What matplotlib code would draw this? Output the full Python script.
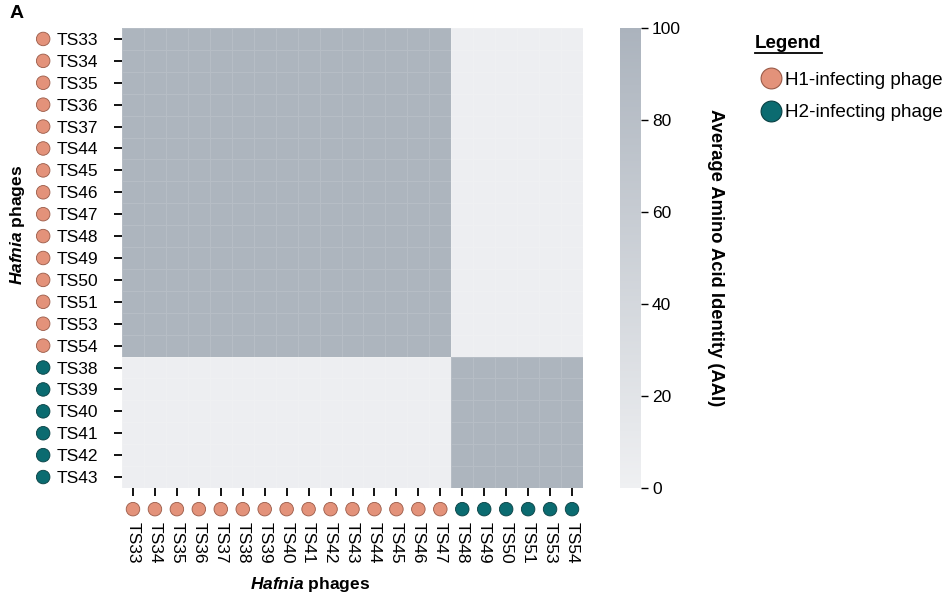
import numpy as np
import matplotlib
matplotlib.use("Agg")
import matplotlib.pyplot as plt
from matplotlib.colors import LinearSegmentedColormap
from matplotlib.lines import Line2D
import matplotlib.transforms as mtransforms

plt.rcParams["font.family"] = ["Liberation Sans", "DejaVu Sans"]
plt.rcParams["mathtext.fontset"] = "custom"
plt.rcParams["mathtext.it"] = "Liberation Sans:bold:italic"
plt.rcParams["mathtext.rm"] = "Liberation Sans:bold"

# phage order on each axis and the host each one infects
row_labels = ["TS33", "TS34", "TS35", "TS36", "TS37", "TS44", "TS45", "TS46",
              "TS47", "TS48", "TS49", "TS50", "TS51", "TS53", "TS54",
              "TS38", "TS39", "TS40", "TS41", "TS42", "TS43"]
row_host = ["H1"] * 15 + ["H2"] * 6
col_labels = ["TS33", "TS34", "TS35", "TS36", "TS37", "TS38", "TS39", "TS40",
              "TS41", "TS42", "TS43", "TS44", "TS45", "TS46", "TS47",
              "TS48", "TS49", "TS50", "TS51", "TS53", "TS54"]
col_host = ["H1"] * 15 + ["H2"] * 6

# pairwise AAI (%)
same_group_aai = 97.0
cross_group_aai = 3.0

host_colors = {"H1": "#e3927a", "H2": "#0b6b70"}
host_edges = {"H1": "#9a5a47", "H2": "#083f42"}

aai = np.where(np.array(row_host)[:, None] == np.array(col_host)[None, :],
               same_group_aai, cross_group_aai)

cmap = LinearSegmentedColormap.from_list("aai", ["#eff0f2", "#abb3bd"])

fig = plt.figure(figsize=(9.48, 5.98), dpi=100)
ax = fig.add_axes([122 / 948, 1 - 488 / 598, 461 / 948, 460 / 598])
cax = fig.add_axes([620 / 948, 1 - 488 / 598, 21 / 948, 460 / 598])

n_rows, n_cols = aai.shape
mesh = ax.pcolormesh(np.arange(n_cols + 1), np.arange(n_rows + 1), aai,
                     cmap=cmap, vmin=0, vmax=100,
                     edgecolor=(1, 1, 1, 0.12), linewidth=0.6)
ax.set_xlim(0, n_cols)
ax.set_ylim(n_rows, 0)
for s in ax.spines.values():
    s.set_visible(False)

ax.set_xticks(np.arange(n_cols) + 0.5)
ax.set_xticklabels(col_labels, rotation=-90, fontsize=12.5, va="top")
ax.set_yticks(np.arange(n_rows) + 0.5)
ax.set_yticklabels(row_labels, fontsize=12.5)
ax.tick_params(axis="x", length=5.5, width=1.3, pad=19)
ax.tick_params(axis="y", length=5.5, width=1.3, pad=11.5)

# host markers next to the tick labels
tx = mtransforms.blended_transform_factory(ax.transData, ax.transAxes)
ax.scatter(np.arange(n_cols) + 0.5, [-0.046] * n_cols, s=95,
           c=[host_colors[h] for h in col_host],
           edgecolors=[host_edges[h] for h in col_host], linewidths=0.6,
           transform=tx, clip_on=False, zorder=5)
ty = mtransforms.blended_transform_factory(ax.transAxes, ax.transData)
ax.scatter([-0.171] * n_rows, np.arange(n_rows) + 0.5, s=95,
           c=[host_colors[h] for h in row_host],
           edgecolors=[host_edges[h] for h in row_host], linewidths=0.6,
           transform=ty, clip_on=False, zorder=5)

ax.set_xlabel(r"$\it{Hafnia}$ phages", fontsize=12.5, fontweight="bold")
ax.xaxis.set_label_coords(0.408, -0.19)
ax.set_ylabel(r"$\it{Hafnia}$ phages", fontsize=12.5, fontweight="bold")
ax.yaxis.set_label_coords(-0.205, 0.572)

cb = fig.colorbar(mesh, cax=cax, ticks=[0, 20, 40, 60, 80, 100])
cb.outline.set_visible(False)
cax.tick_params(length=5, width=1, labelsize=12.5, pad=3)
cb.set_label("Average Amino Acid Identity (AAI)", rotation=270,
             fontsize=13.2, fontweight="bold", labelpad=31)

fig.text(10 / 948, 1 - 14 / 598, "A", fontsize=14, fontweight="bold",
         va="center", ha="left")

# legend block
lx = 755 / 948
fig.text(lx, 1 - 44 / 598, "Legend", fontsize=13.5, fontweight="bold",
         va="center", ha="left")
fig.add_artist(Line2D([lx, 822 / 948], [1 - 53 / 598] * 2, color="black",
                      linewidth=1.3, transform=fig.transFigure))
handles = [Line2D([], [], marker="o", linestyle="", markersize=15,
                  markerfacecolor=host_colors[h], markeredgecolor=host_edges[h],
                  markeredgewidth=0.8)
           for h in ["H1", "H2"]]
fig.legend(handles, ["H1-infecting phage", "H2-infecting phage"],
           loc="upper left", bbox_to_anchor=(750 / 948, 1 - 64 / 598),
           frameon=False, fontsize=13.6, handletextpad=0.05,
           labelspacing=0.8, borderaxespad=0, handlelength=1.4)

fig.savefig("out.png", dpi=100)
